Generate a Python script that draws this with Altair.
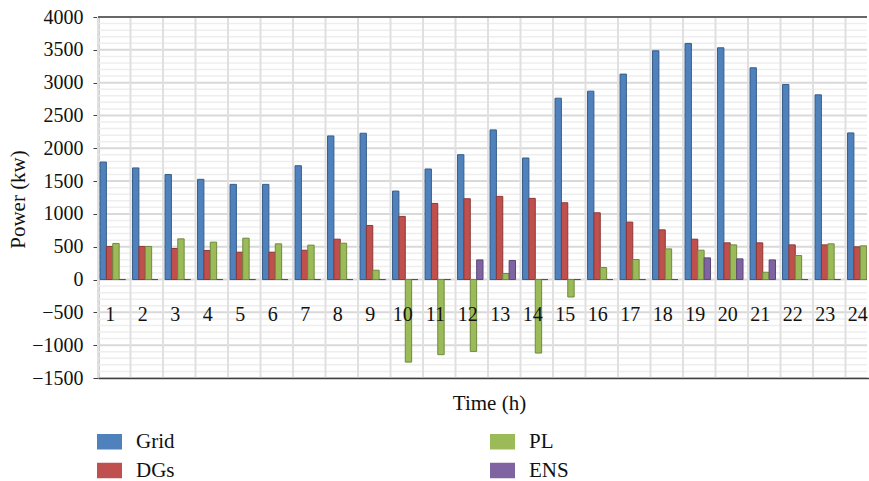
import altair as alt
import pandas as pd

# Hourly power balance (kW)
hours = list(range(1, 25))
grid = [1790, 1700, 1600, 1527, 1450, 1450, 1734, 2188, 2229, 1348, 1684, 1902,
        2280, 1852, 2763, 2870, 3130, 3485, 3597, 3531, 3226, 2971, 2814, 2234]
dgs = [504, 504, 473, 443, 417, 417, 447, 615, 824, 962, 1160, 1231,
       1267, 1237, 1170, 1017, 875, 757, 615, 559, 559, 528, 528, 498]
pl = [550, 504, 620, 570, 630, 544, 524, 554, 142, -1258, -1145, -1095,
      92, -1120, -266, 183, 305, 467, 447, 528, 111, 366, 544, 513]
ens = [0, 0, 0, 0, 0, 0, 0, 0, 0, 0, 0, 299,
       290, 0, 0, 0, 0, 0, 330, 315, 299, 0, 0, 0]

series = ["Grid", "DGs", "PL", "ENS"]
fill_colors = ["#4f81bd", "#c0504d", "#9bbb59", "#8064a2"]
edge_colors = ["#385d8a", "#8c3836", "#71893f", "#5c4776"]
y_major = list(range(-1500, 4001, 500))
y_lines = list(range(-1500, 4001, 100))

rows = []
for name, vals in zip(series, [grid, dgs, pl, ens]):
    for h, v in zip(hours, vals):
        rows.append({"Hour": h, "Series": name, "Power": v})
df = pd.DataFrame(rows)

FONT = "Liberation Serif"
Y_SCALE = alt.Scale(domain=[-1500, 4000], nice=False, zero=False)
X_SCALE = alt.Scale(range=[0, 780], paddingInner=0, paddingOuter=0)

X_AXIS = alt.Axis(
    title="Time (h)",
    titleFont=FONT, titleFontSize=21, titleFontWeight="normal", titleColor="#111",
    titleX=391, titleY=31, titleBaseline="alphabetic",
    labelAngle=0, labelFont=FONT, labelFontSize=20, labelColor="#111",
    labelBaseline="alphabetic", labelPadding=-58, labelOffset=-4,
    ticks=False, tickSize=0, grid=False, zindex=1,
    domainColor="#404040", domainWidth=1.5,
)

Y_AXIS = alt.Axis(
    title="Power (kw)",
    titleFont=FONT, titleFontSize=21, titleFontWeight="normal", titleColor="#111",
    titleX=-70, titleY=182,
    values=y_major, format="d", grid=False,
    labelExpr="replace(datum.label, '-', '\u2212')",
    labelFont=FONT, labelFontSize=20, labelColor="#111", labelPadding=10,
    tickSize=5, tickColor="#404040",
    domainColor="#404040", domainWidth=1.5,
)

# horizontal grid: light lines every 100, stronger every 500
h_grid = alt.Chart(pd.DataFrame({"v": y_lines})).mark_rule().encode(
    y=alt.Y("v:Q", scale=Y_SCALE, axis=Y_AXIS),
    color=alt.condition("datum.v % 500 === 0", alt.value("#d9d9d9"), alt.value("#eeeeee")),
    strokeWidth=alt.condition("datum.v % 500 === 0", alt.value(2), alt.value(1.5)),
)

# vertical grid at the left edge of each hour slot
v_grid = alt.Chart(pd.DataFrame({"Hour": hours})).mark_rule(
    color="#e0e0e0", strokeWidth=2
).encode(
    x=alt.X("Hour:O", bandPosition=0, scale=X_SCALE, axis=X_AXIS),
)

bars = alt.Chart(df).mark_bar(strokeWidth=1, clip=True).encode(
    x=alt.X("Hour:O", scale=X_SCALE, axis=X_AXIS),
    xOffset=alt.XOffset(
        "Series:N",
        sort=series,
        scale=alt.Scale(domain=series, paddingInner=0, paddingOuter=0.55, align=0.29),
    ),
    y=alt.Y("Power:Q", scale=Y_SCALE, axis=Y_AXIS),
    color=alt.Color(
        "Series:N",
        scale=alt.Scale(domain=series, range=fill_colors),
        legend=alt.Legend(
            title=None, orient="none", legendX=-1, legendY=412, columns=2,
            columnPadding=315, rowPadding=6, padding=0,
            symbolType="M-1,-0.62H1V0.62H-1Z", symbolSize=625, symbolStrokeWidth=0,
            labelFont=FONT, labelFontSize=21, labelColor="#111", labelOffset=14,
        ),
    ),
    stroke=alt.Stroke(
        "Series:N",
        scale=alt.Scale(domain=series, range=edge_colors),
        legend=None,
    ),
)

top_border = alt.Chart(pd.DataFrame({"y": [4000]})).mark_rule(
    color="#404040", strokeWidth=1.5
).encode(y=alt.Y("y:Q", scale=Y_SCALE, axis=Y_AXIS))

chart = (
    alt.layer(h_grid, v_grid, bars, top_border)
    .properties(
        width=769, height=361,
        autosize=alt.AutoSizeParams(type="none"),
        padding={"left": 98, "top": 17, "right": 2, "bottom": 103},
        background="white",
    )
    .configure_view(stroke=None)
)

chart.save("out.html", embed_options={"renderer": "svg", "actions": False})
